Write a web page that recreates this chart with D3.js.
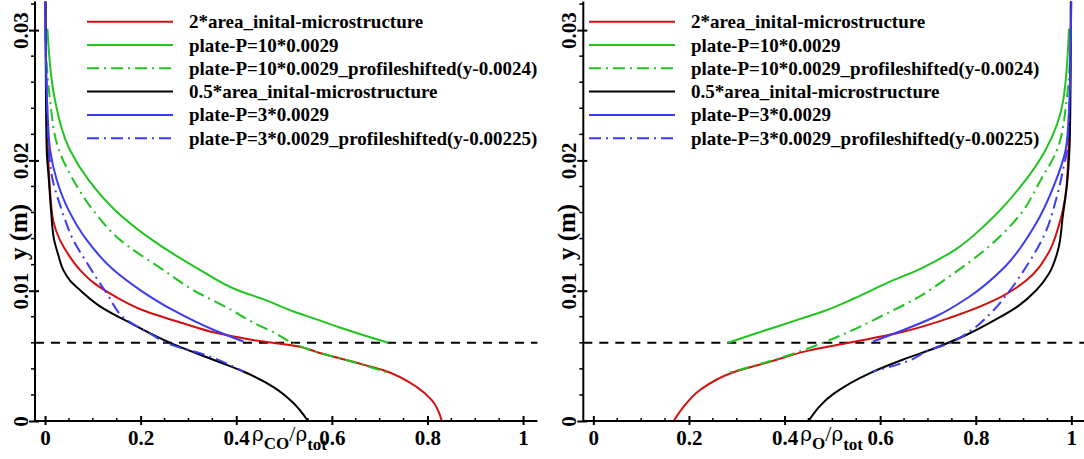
<!DOCTYPE html>
<html>
<head>
<meta charset="utf-8">
<script src="https://cdn.jsdelivr.net/npm/d3@7"></script>
<style>
  html, body { margin: 0; padding: 0; background: #fff; }
  svg { display: block; }
  .tick-label { font-family: "Liberation Serif", "Times New Roman", serif; font-weight: bold; font-size: 21px; fill: #000; }
  .legend-text { font-family: "Liberation Serif", "Times New Roman", serif; font-weight: bold; font-size: 19px; fill: #000; }
  .axis-title { font-family: "Liberation Serif", "Times New Roman", serif; font-weight: bold; fill: #000; }
</style>
</head>
<body>
<svg id="chart" width="1084" height="459"></svg>
<script>
// ---- series: [density fraction, y (m)] ----
// CO profiles (left panel)
const coArea2 = [[0.001,0.0323],[0.003,0.0246],[0.006,0.0208],[0.0105,0.0177],[0.017,0.0154],[0.031,0.0139],[0.052,0.0126],[0.073,0.0116],[0.102,0.0106],[0.140,0.0097],[0.205,0.0085],[0.289,0.0075],[0.359,0.00675],[0.429,0.00625],[0.533,0.0057],[0.568,0.0053],[0.638,0.0046],[0.708,0.0039],[0.778,0.0026],[0.809,0.0016],[0.830,0.0]];
const coPlate10 = [[0.005,0.0301],[0.021,0.0246],[0.052,0.0208],[0.091,0.0185],[0.146,0.0162],[0.224,0.0139],[0.324,0.0116],[0.402,0.01005],[0.46,0.0093],[0.52,0.0084],[0.568,0.0078],[0.615,0.0072],[0.665,0.0066],[0.718,0.0060]];
const coPlate10s = [[0.003,0.0276],[0.0105,0.0246],[0.029,0.0208],[0.059,0.0185],[0.100,0.0162],[0.157,0.0139],[0.247,0.0116],[0.310,0.01005],[0.391,0.0085],[0.433,0.0076],[0.481,0.00675],[0.517,0.0060],[0.554,0.00545],[0.638,0.0046],[0.718,0.0037]];
const coArea05 = [[0.001,0.0323],[0.002,0.0246],[0.0035,0.0208],[0.008,0.0185],[0.0125,0.0162],[0.019,0.0139],[0.028,0.0127],[0.038,0.0116],[0.052,0.0108],[0.073,0.01005],[0.115,0.0088],[0.185,0.0074],[0.262,0.0060],[0.352,0.0047],[0.415,0.0038],[0.478,0.0026],[0.519,0.0014],[0.550,0.0]];
const coPlate3 = [[0.0,0.0323],[0.002,0.0277],[0.006,0.0231],[0.0105,0.0208],[0.0245,0.0185],[0.049,0.0162],[0.087,0.0139],[0.143,0.0116],[0.199,0.01005],[0.268,0.0085],[0.352,0.0070],[0.415,0.0061]];
const coPlate3s = [[0.001,0.0300],[0.004,0.0246],[0.008,0.0208],[0.016,0.0185],[0.035,0.0162],[0.059,0.0139],[0.090,0.0120],[0.129,0.0098],[0.171,0.00775],[0.220,0.0067],[0.268,0.0058],[0.324,0.0052],[0.415,0.0038]];

// O profiles (right panel)
const oArea2 = [[0.999,0.0323],[0.997,0.0246],[0.994,0.0208],[0.989,0.0177],[0.973,0.0149],[0.952,0.0129],[0.906,0.0108],[0.852,0.0095],[0.752,0.0080],[0.648,0.00685],[0.535,0.0060],[0.45,0.0054],[0.375,0.0046],[0.29,0.0037],[0.224,0.0024],[0.189,0.0011],[0.168,0.0]];
const oPlate10 = [[0.995,0.0301],[0.983,0.0246],[0.946,0.0208],[0.894,0.0180],[0.824,0.0152],[0.755,0.0131],[0.685,0.0117],[0.615,0.0106],[0.545,0.0094],[0.48,0.0084],[0.43,0.0078],[0.38,0.0072],[0.33,0.0066],[0.282,0.0060]];
const oPlate10s = [[0.997,0.0276],[0.99,0.0246],[0.97,0.0208],[0.936,0.0185],[0.894,0.0159],[0.818,0.0131],[0.745,0.0111],[0.675,0.0094],[0.60,0.0080],[0.535,0.00685],[0.48,0.0060],[0.37,0.0046],[0.282,0.0037]];
const oArea05 = [[0.999,0.0323],[0.998,0.0246],[0.996,0.0208],[0.991,0.0182],[0.982,0.0157],[0.972,0.0131],[0.953,0.0113],[0.927,0.01005],[0.888,0.0088],[0.84,0.00775],[0.78,0.0066],[0.715,0.0056],[0.647,0.0047],[0.58,0.0037],[0.503,0.0021],[0.45,0.0]];
const oPlate3 = [[1.0,0.0323],[0.998,0.0277],[0.994,0.0231],[0.988,0.0208],[0.965,0.0182],[0.922,0.0149],[0.86,0.0118],[0.785,0.0095],[0.715,0.0080],[0.65,0.0070],[0.585,0.0061]];
const oPlate3s = [[0.999,0.0300],[0.996,0.0246],[0.991,0.0208],[0.984,0.0195],[0.968,0.0170],[0.945,0.0144],[0.91,0.0121],[0.872,0.01005],[0.832,0.0083],[0.792,0.0070],[0.74,0.0059],[0.70,0.0054],[0.665,0.0047],[0.585,0.0038]];

// legend entries and styles, in drawing order
const seriesNames = [
  "2*area_inital-microstructure",
  "plate-P=10*0.0029",
  "plate-P=10*0.0029_profileshifted(y-0.0024)",
  "0.5*area_inital-microstructure",
  "plate-P=3*0.0029",
  "plate-P=3*0.0029_profileshifted(y-0.00225)"
];
const seriesColors = ["#d40f0f", "#1fc41f", "#1fc41f", "#000000", "#3b3bf2", "#3b3bf2"];
const seriesDashDot = [false, false, true, false, false, true];

// axes
const xTicks = [0, 0.2, 0.4, 0.6, 0.8, 1];
const xMinorTicks = [0.05,0.1,0.15,0.25,0.3,0.35,0.45,0.5,0.55,0.65,0.7,0.75,0.85,0.9,0.95];
const yTicks = [0, 0.01, 0.02, 0.03];
const yMinorTicks = [0.002,0.004,0.006,0.008,0.012,0.014,0.016,0.018,0.022,0.024,0.026,0.028,0.032];
const xDomain = [-0.021, 1.03];
const yDomain = [0, 0.0322];
const interfaceY = 0.006;   // horizontal reference line

const svg = d3.select("#chart");
const fmt = d3.format("~g");

function drawPanel(cfg) {
  const x = d3.scaleLinear().domain(xDomain).range([cfg.left, cfg.left + 502.4]);
  const y = d3.scaleLinear().domain(yDomain).range([421, 421 - 0.0322 * 13030]);
  const g = svg.append("g");

  const clipId = "clip-" + cfg.id;
  svg.append("clipPath").attr("id", clipId).append("rect")
    .attr("x", x.range()[0]).attr("y", y.range()[1])
    .attr("width", x.range()[1] - x.range()[0]).attr("height", y.range()[0] - y.range()[1]);

  // reference line
  g.append("line")
    .attr("x1", x(xDomain[0])).attr("x2", x(xDomain[1]))
    .attr("y1", y(interfaceY)).attr("y2", y(interfaceY))
    .attr("stroke", "#000").attr("stroke-width", 2).attr("stroke-dasharray", "9,7");

  // profiles
  const line = d3.line().x(d => x(d[0])).y(d => y(d[1])).curve(d3.curveMonotoneY);
  const curves = g.append("g").attr("clip-path", `url(#${clipId})`);
  cfg.series.forEach((s, i) => {
    curves.append("path").datum(s)
      .attr("d", line)
      .attr("fill", "none")
      .attr("stroke", seriesColors[i])
      .attr("stroke-width", 2)
      .attr("stroke-dasharray", seriesDashDot[i] ? "12,5,2,5" : null);
  });

  // x axis
  const xAxis = g.append("g").attr("transform", `translate(0,${y(0)})`)
    .call(d3.axisBottom(x).tickValues(xTicks).tickFormat(fmt).tickSizeOuter(0));
  xAxis.select(".domain").attr("stroke-width", 2).attr("d", `M${x.range()[0]},0H${x.range()[1]}`);
  xAxis.selectAll(".tick line").attr("y1", -5).attr("y2", 4).attr("stroke-width", 2);
  xAxis.selectAll(".tick text").attr("class", "tick-label").attr("y", 8).attr("dy", "0.75em");
  xAxis.attr("font-family", null).attr("font-size", null);
  xAxis.selectAll(".minor").data(xMinorTicks).enter().append("line")
    .attr("x1", d => x(d)).attr("x2", d => x(d)).attr("y1", -3).attr("y2", 0)
    .attr("stroke", "#000").attr("stroke-width", 1.5);

  // y axis
  const yAxis = g.append("g").attr("transform", `translate(${x.range()[0]},0)`)
    .call(d3.axisLeft(y).tickValues(yTicks).tickFormat(fmt).tickSizeOuter(0));
  yAxis.select(".domain").attr("stroke-width", 2).attr("d", `M0,${y.range()[0]}V${y.range()[1]}`);
  yAxis.selectAll(".tick line").attr("x1", -6).attr("x2", 4).attr("stroke-width", 2);
  yAxis.selectAll(".tick text").attr("class", "tick-label")
    .attr("x", null).attr("dy", null).attr("text-anchor", "middle")
    .attr("transform", "translate(-7,0) rotate(-90)");
  yAxis.attr("font-family", null).attr("font-size", null);
  yAxis.selectAll(".minor").data(yMinorTicks).enter().append("line")
    .attr("y1", d => y(d)).attr("y2", d => y(d)).attr("x1", -4).attr("x2", 0)
    .attr("stroke", "#000").attr("stroke-width", 1.5);

  // y title
  g.append("text").attr("class", "axis-title")
    .attr("transform", `translate(${x.range()[0] - 8},${232}) rotate(-90)`)
    .attr("text-anchor", "middle").style("font-size", "25px")
    .text("y (m)");

  // x title: rho_species / rho_tot
  const t = g.append("text").attr("class", "axis-title")
    .attr("x", x(0.433)).attr("y", 441).style("font-size", "22px");
  t.append("tspan").text("ρ").style("font-weight", "normal").style("font-family", "DejaVu Serif, serif").style("font-size", "20px");
  t.append("tspan").text(cfg.species).attr("dy", 8).style("font-size", "17px");
  t.append("tspan").text("/").attr("dy", -8).style("font-weight", "normal");
  t.append("tspan").text("ρ").style("font-weight", "normal").style("font-family", "DejaVu Serif, serif").style("font-size", "20px");
  t.append("tspan").text("tot").attr("dy", 9).style("font-size", "17px");

  // legend
  const lg = g.append("g");
  seriesNames.forEach((name, i) => {
    const ly = 21.7 + i * 23.3;
    lg.append("line")
      .attr("x1", cfg.legendX).attr("x2", cfg.legendX + 86)
      .attr("y1", ly).attr("y2", ly)
      .attr("stroke", seriesColors[i]).attr("stroke-width", 2)
      .attr("stroke-dasharray", seriesDashDot[i] ? "12,5,2,5" : null);
    lg.append("text").attr("class", "legend-text")
      .attr("x", cfg.legendX + 102).attr("y", ly + 6.5)
      .text(name);
  });
}

drawPanel({ id: "co", left: 35, legendX: 87, species: "CO",
  series: [coArea2, coPlate10, coPlate10s, coArea05, coPlate3, coPlate3s] });
drawPanel({ id: "o", left: 583.3, legendX: 589, species: "O",
  series: [oArea2, oPlate10, oPlate10s, oArea05, oPlate3, oPlate3s] });
</script>
</body>
</html>
